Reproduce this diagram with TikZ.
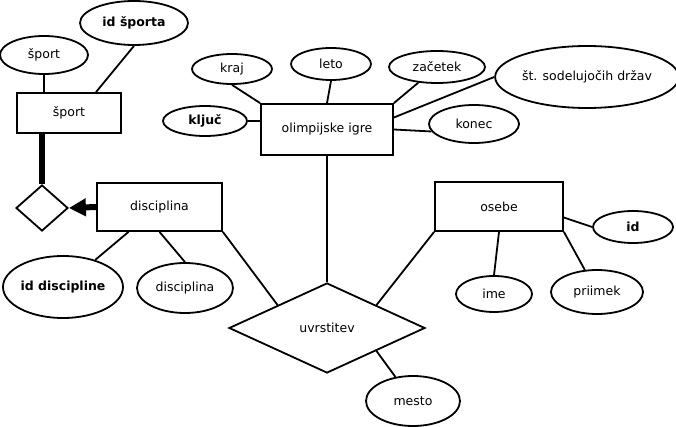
\documentclass[tikz,border=0pt]{standalone}
\usepackage{fontspec}
\setmainfont{DejaVu Sans}
\usetikzlibrary{shapes.geometric,arrows.meta}
\begin{document}
\begin{tikzpicture}[x=1pt,y=-1pt,
  every node/.style={font=\fontsize{12.5}{14}\selectfont},
  ent/.style={draw, rectangle, line width=1.8pt, inner sep=0pt},
  attr/.style={draw, ellipse, line width=1.8pt, inner sep=0pt},
  rel/.style={draw, diamond, line width=1.8pt, inner sep=0pt},
  key/.style={font=\fontsize{12.5}{14}\selectfont\bfseries},
  ln/.style={line width=1.8pt},
  heavy/.style={line width=6pt}]
\useasboundingbox (0,0) rectangle (676,427);
% sport
\node[attr, minimum width=88pt, minimum height=38pt] (sportA) at (44,55) {šport};
\node[attr, key, minimum width=108pt, minimum height=44pt] (idsp) at (134,23) {id športa};
\node[ent, minimum width=104pt, minimum height=40pt] (sport) at (69,113) {šport};
\node[rel, minimum width=52pt, minimum height=46pt] (isa) at (42,208) {};
% disciplina
\node[ent, minimum width=125pt, minimum height=48pt] (disc) at (159.5,207) {disciplina};
\node[attr, key, minimum width=120pt, minimum height=62pt] (iddisc) at (63,287) {id discipline};
\node[attr, minimum width=96pt, minimum height=50pt] (discA) at (185,288) {disciplina};
% olimpijske igre
\node[ent, minimum width=132pt, minimum height=51pt] (olimp) at (327,129.5) {olimpijske igre};
\node[attr, minimum width=80pt, minimum height=30pt] (kraj) at (232,69) {kraj};
\node[attr, minimum width=80pt, minimum height=32pt] (leto) at (331,64) {leto};
\node[attr, minimum width=96pt, minimum height=32pt] (zacetek) at (437,67) {začetek};
\node[attr, minimum width=170pt, minimum height=62pt] (st) at (587,77) {št. sodelujočih držav};
\node[attr, key, minimum width=84pt, minimum height=30pt] (kljuc) at (205,121) {ključ};
\node[attr, minimum width=90pt, minimum height=38pt] (konec) at (474,124) {konec};
% uvrstitev
\node[rel, minimum width=196pt, minimum height=90pt] (uvr) at (327,328) {uvrstitev};
\node[attr, minimum width=94pt, minimum height=50pt] (mesto) at (413,401) {mesto};
% osebe
\node[ent, minimum width=128pt, minimum height=49pt] (osebe) at (499,206.5) {osebe};
\node[attr, key, minimum width=80pt, minimum height=32pt] (id) at (633,227) {id};
\node[attr, minimum width=76pt, minimum height=36pt] (ime) at (494,294) {ime};
\node[attr, minimum width=92pt, minimum height=44pt] (priimek) at (597,292) {priimek};
% connectors
\draw[ln] (sportA.south) -- (sportA.south |- sport.north);
\draw[ln] ([xshift=27pt]sport.north) -- (idsp.south);
\draw[heavy] (isa.north) -- (isa.north |- sport.south);
\draw[heavy, -{Triangle[length=17pt,width=17pt]}] (disc.west) -- (isa.east);
\draw[ln] ([xshift=-31pt]disc.south) -- (iddisc);
\draw[ln] (disc.south) -- (discA.north);
\draw[ln] (disc.south east) -- (uvr.north west);
\draw[ln] (olimp.north west) -- (kraj.south);
\draw[ln] (olimp.north) -- (leto.south);
\draw[ln] (olimp.north east) -- (zacetek);
\draw[ln] ([yshift=12pt]olimp.east) -- (st.west);
\draw[ln] (olimp.east) -- (konec.190);
\draw[ln] (kljuc.east) -- (kljuc.east -| olimp.west);
\draw[ln] (olimp.south) -- (uvr.north);
\draw[ln] (osebe.south west) -- (uvr.north east);
\draw[ln] (uvr.south east) -- (mesto);
\draw[ln] ([yshift=-11pt]osebe.east) -- (id.west);
\draw[ln] (osebe.south) -- (ime.north);
\draw[ln] (osebe.south east) -- (priimek);
\end{tikzpicture}
\end{document}
